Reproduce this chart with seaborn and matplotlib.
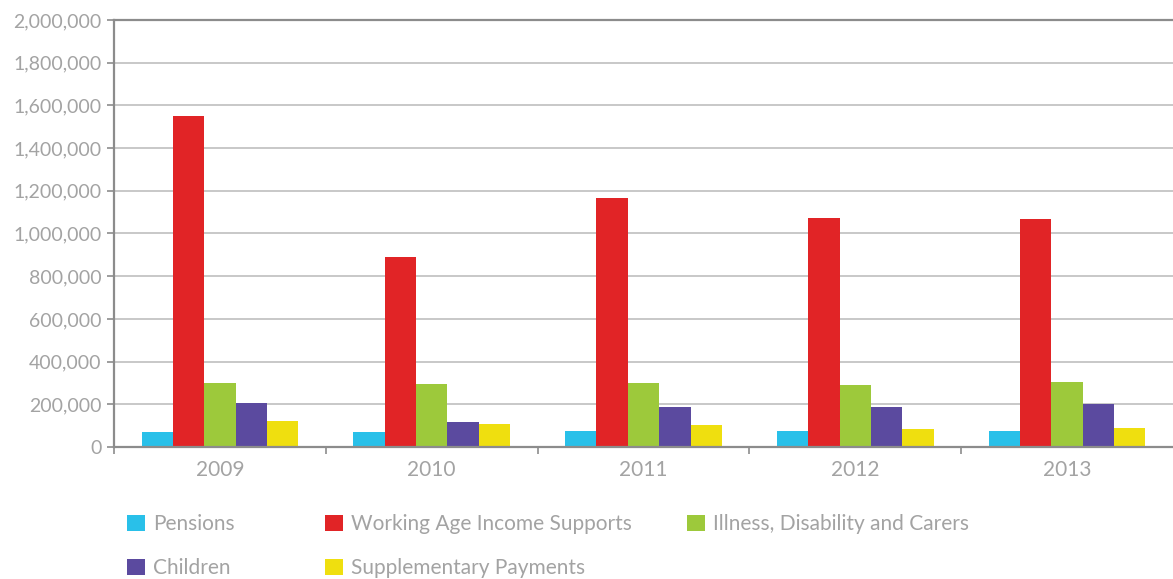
import matplotlib
matplotlib.use("Agg")
import matplotlib.pyplot as plt
import seaborn as sns
import pandas as pd
from matplotlib.ticker import FuncFormatter, FixedLocator

years = ["2009", "2010", "2011", "2012", "2013"]
series = ["Pensions", "Working Age Income Supports", "Illness, Disability and Carers",
          "Children", "Supplementary Payments"]
pensions = [69000, 70000, 75000, 75000, 77000]
working_age = [1550000, 890000, 1166000, 1072000, 1068000]
illness = [298000, 294000, 300000, 292000, 303000]
children = [206000, 117000, 187000, 189000, 201000]
supplementary = [120000, 109000, 101000, 84000, 89000]
colors = ["#29C0E9", "#E12426", "#9DC93B", "#5B4A9F", "#EFDF0F"]

values = [pensions, working_age, illness, children, supplementary]
rows = []
for s, vals in zip(series, values):
    for y, v in zip(years, vals):
        rows.append({"Year": y, "Series": s, "Value": v})
df = pd.DataFrame(rows)

sns.set_style("white")
plt.rcParams["font.family"] = ["Lato", "DejaVu Sans"]
plt.rcParams["font.weight"] = "normal"

text_col = "#a3a3a3"

fig = plt.figure(figsize=(11.73, 5.79), dpi=100)
ax = fig.add_axes([0.0972, 0.228, 0.9028, 0.7375])

sns.barplot(data=df, x="Year", y="Value", hue="Series", hue_order=series,
            palette=colors, width=0.74, gap=0, saturation=1, ax=ax,
            edgecolor="none", linewidth=0, legend=True)

ax.set_ylim(0, 2000000)
ax.set_xlim(-0.5, 4.5)
ax.set_yticks(range(0, 2000001, 200000))
ax.yaxis.set_major_formatter(FuncFormatter(lambda v, p: f"{int(v):,}"))
ax.grid(axis="y", color="#c8c8c8", linewidth=1.4)
ax.set_axisbelow(True)
ax.set_xlabel("")
ax.set_ylabel("")

for side in ["left", "bottom", "top"]:
    ax.spines[side].set_visible(True)
    ax.spines[side].set_color("#8c8c8c")
    ax.spines[side].set_linewidth(1.6)
ax.spines["right"].set_visible(False)

ax.tick_params(axis="y", which="major", left=True, length=5, width=1.2,
               color="#8c8c8c", labelsize=14, labelcolor=text_col, pad=4)
ax.tick_params(axis="x", which="major", bottom=False, labelsize=15,
               labelcolor=text_col, pad=6)
ax.xaxis.set_minor_locator(FixedLocator([-0.5, 0.5, 1.5, 2.5, 3.5]))
ax.tick_params(axis="x", which="minor", bottom=True, length=5, width=1.2,
               color="#8c8c8c")

handles, labels = ax.get_legend_handles_labels()
ax.get_legend().remove()

common = dict(frameon=False, fontsize=15, labelcolor=text_col,
              handlelength=0.85, handleheight=0.85, handletextpad=0.4,
              labelspacing=1.15, borderaxespad=0, borderpad=0)
cols = [([0, 3], 0.1085), ([1, 4], 0.277), ([2], 0.586)]
for idx, xpos in cols:
    fig.legend([handles[i] for i in idx], [labels[i] for i in idx],
               loc="upper left", bbox_to_anchor=(xpos, 0.112), **common)

fig.savefig("out.png", dpi=100)
